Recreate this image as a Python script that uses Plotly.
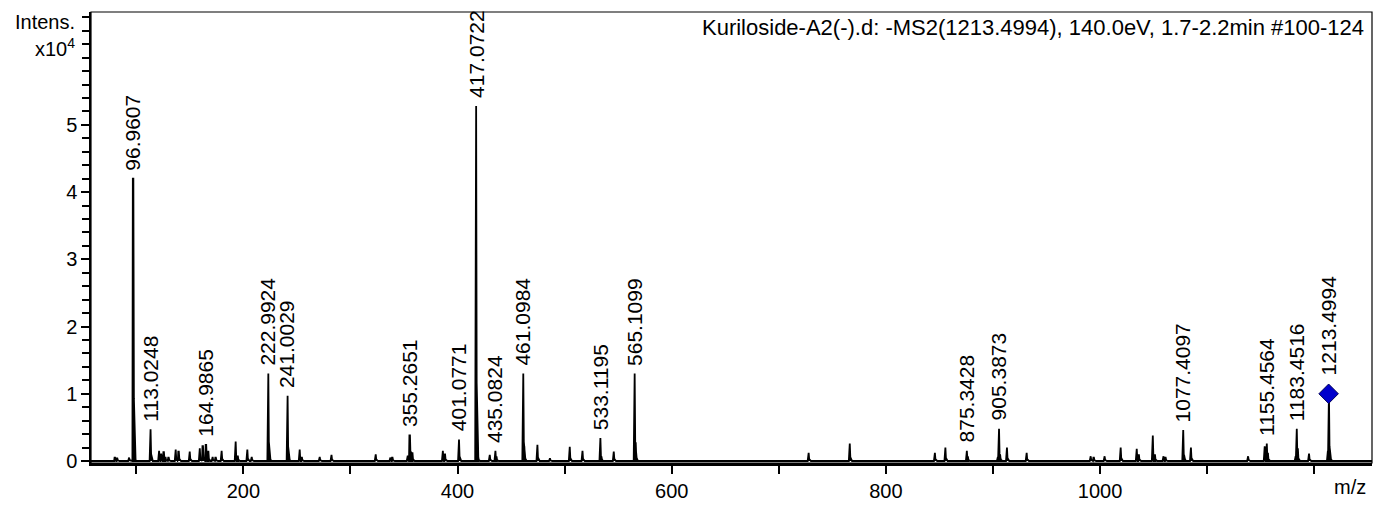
import plotly.graph_objects as go

# ---- data (m/z, intensity) ----
labeled_mz = [96.9607, 113.0248, 164.9865, 222.9924, 241.0029, 355.2651, 401.0771,
              417.0722, 435.0824, 461.0984, 533.1195, 565.1099, 875.3428, 905.3873,
              1077.4097, 1155.4564, 1183.4516, 1213.4994]
labeled_int = [42000, 4700, 2400, 13000, 9700, 3800, 3200,
               52800, 1500, 13000, 3400, 13000, 1500, 4800,
               4600, 2600, 4800, 10000]

minor_mz = [79.9, 82.0, 93.0, 97.96, 121.0, 123.0, 125.5, 127.0, 130.0, 136.5, 139.4,
            149.6, 159.0, 162.0, 167.0, 171.0, 174.0, 179.4, 192.5, 194.5, 203.4,
            207.5, 223.99, 242.0, 252.3, 254.3, 271.0, 282.0, 323.3, 337.0, 339.0,
            353.2, 356.3, 357.6, 386.0, 388.0, 418.07, 419.07, 429.8, 436.1, 462.1,
            474.3, 486.0, 504.5, 516.4, 534.1, 545.6, 566.1, 727.6, 766.0, 845.5,
            855.3, 876.3, 904.3, 906.4, 912.8, 931.2, 991.0, 994.0, 1004.0, 1019.0,
            1034.0, 1036.0, 1049.0, 1051.0, 1059.0, 1061.0, 1078.4, 1084.6, 1138.0,
            1153.5, 1156.5, 1182.4, 1184.45, 1194.9, 1212.5, 1214.5]
minor_int = [500, 400, 500, 900, 1500, 1100, 1300, 600, 500, 1700, 1400,
             1400, 1900, 2200, 1500, 600, 500, 1500, 2900, 800, 1700,
             600, 1500, 800, 1700, 600, 600, 900, 1000, 500, 500,
             800, 1400, 1300, 1500, 1100, 1800, 600, 900, 700, 2200,
             2400, 400, 2100, 1500, 700, 1400, 2800, 1200, 2600, 1200,
             2000, 700, 600, 1000, 2000, 1200, 700, 500, 700, 2000,
             1800, 1000, 3800, 1000, 700, 500, 800, 2000, 700,
             2200, 1200, 700, 1900, 1100, 1500, 1600]

precursor_mz = 1213.4994
title_text = "Kuriloside-A2(-).d: -MS2(1213.4994), 140.0eV, 1.7-2.2min #100-124"
x_range = [57.7, 1254.0]
y_range = [-300, 66800]
x_tickvals = [200, 400, 600, 800, 1000, 1200]
x_ticktext = ["200", "400", "600", "800", "1000", ""]
y_tickvals = [0, 10000, 20000, 30000, 40000, 50000]
y_ticktext = ["0", "1", "2", "3", "4", "5"]

# ---- build profile from peak list ----
peaks = sorted(zip(labeled_mz + minor_mz, labeled_int + minor_int))
px, py = [x_range[0]], [0]
for mz, h in peaks:
    px += [mz - 0.6, mz - 0.2, mz + 0.3, mz + 0.8, mz + 2.4]
    py += [0, h, h, h * 0.22, 0]
px.append(x_range[1]); py.append(0)

FONT = "Liberation Sans, Arial, sans-serif"

fig = go.Figure()
fig.add_trace(go.Scatter(x=px, y=py, mode="lines", line=dict(color="black", width=1.8),
                         fill="tozeroy", fillcolor="black", hoverinfo="skip"))
prec_int = labeled_int[labeled_mz.index(precursor_mz)]
fig.add_trace(go.Scatter(x=[precursor_mz], y=[prec_int], mode="markers",
                         marker=dict(symbol="diamond", size=15, color="#0000CC",
                                     line=dict(color="#00005A", width=1))))

for mz, h in zip(labeled_mz, labeled_int):
    shift = 16 if mz == precursor_mz else 6
    fig.add_annotation(x=mz, y=h, text=f"{mz:.4f}", textangle=-90, showarrow=False,
                       xanchor="center", yanchor="bottom", yshift=shift,
                       font=dict(family=FONT, size=21, color="black"))

fig.add_annotation(xref="paper", yref="paper", x=1, y=1, xanchor="right", yanchor="middle",
                   xshift=-6, yshift=-15, text=title_text, showarrow=False,
                   font=dict(family=FONT, size=22, color="black"))
fig.add_annotation(xref="paper", yref="paper", x=0, y=1, xanchor="right", yanchor="middle",
                   xshift=-14, yshift=-10, text="Intens.", showarrow=False,
                   font=dict(family=FONT, size=20, color="black"))
fig.add_annotation(xref="paper", yref="paper", x=0, y=1, xanchor="right", yanchor="middle",
                   xshift=-14, yshift=-35, text="x10<sup>4</sup>", showarrow=False,
                   font=dict(family=FONT, size=20, color="black"))
fig.add_annotation(xref="paper", yref="paper", x=1, y=0, xanchor="right", yanchor="middle",
                   xshift=-4, yshift=-24, text="m/z", showarrow=False,
                   font=dict(family=FONT, size=20, color="black"))

fig.add_shape(type="rect", xref="paper", yref="paper", x0=0, y0=0, x1=1, y1=1,
              line=dict(color="black", width=1.2))

fig.update_layout(
    width=1376, height=506,
    margin=dict(l=91, r=4, t=12, b=40),
    paper_bgcolor="white", plot_bgcolor="white",
    showlegend=False,
    font=dict(family=FONT, size=20, color="black"),
    xaxis=dict(range=x_range, showgrid=False, zeroline=False, showline=True,
               linecolor="black", linewidth=2.5, ticks="outside", ticklen=8,
               tickcolor="black", tickwidth=1.5, tickmode="array",
               tickvals=x_tickvals, ticktext=x_ticktext,
               minor=dict(tickmode="linear", dtick=100, tick0=0, ticks="outside", ticklen=8,
                          tickcolor="black", tickwidth=1.5),
               tickfont=dict(family=FONT, size=20, color="black")),
    yaxis=dict(range=y_range, showgrid=False, zeroline=False, showline=True,
               linecolor="black", linewidth=1.5, ticks="outside", ticklen=8,
               tickcolor="black", tickwidth=1.5, tickmode="array",
               tickvals=y_tickvals, ticktext=y_ticktext,
               minor=dict(tickmode="linear", dtick=2000, tick0=0, ticks="outside",
                          ticklen=7, tickcolor="black", tickwidth=1.5),
               tickfont=dict(family=FONT, size=20, color="black")),
)

fig.write_html("out.html", config={"displayModeBar": False},
               post_script="document.body.style.margin='0';")
